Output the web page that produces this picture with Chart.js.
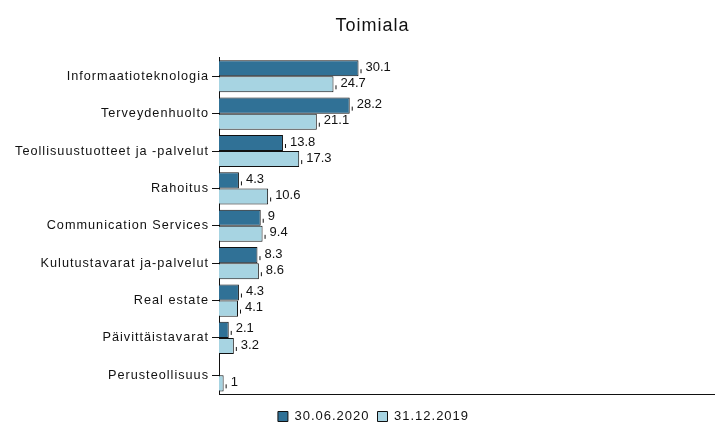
<!DOCTYPE html>
<html>
<head>
<meta charset="utf-8">
<script src="https://cdn.jsdelivr.net/npm/chart.js@4/dist/chart.umd.min.js"></script>
<style>
html,body{margin:0;padding:0;background:#fff;}
#wrap{width:715px;height:422px;}
</style>
</head>
<body>
<div id="wrap"><canvas id="c" width="715" height="422"></canvas></div>
<script>
const categories = ["Informaatioteknologia","Terveydenhuolto","Teollisuustuotteet ja -palvelut","Rahoitus","Communication Services","Kulutustavarat ja-palvelut","Real estate","Päivittäistavarat","Perusteollisuus"];
const seriesNames = ["30.06.2020","31.12.2019"];
const values2020 = [30.1, 28.2, 13.8, 4.3, 9, 8.3, 4.3, 2.1, null];
const values2019 = [24.7, 21.1, 17.3, 10.6, 9.4, 8.6, 4.1, 3.2, 1];
const colors = ["#307196", "#a7d4e2"];

const FONT = "'Liberation Sans', Arial, sans-serif";

const spacingPlugin = {
  id: 'spacing',
  beforeLayout(chart) { chart.ctx.letterSpacing = '1px'; },
  afterLayout(chart) {
    // title and legend in the reference are centred slightly right of the canvas centre
    const t = chart.titleBlock;
    if (t) { t.left += 15; t.right += 15; }
    const l = chart.legend;
    if (l) { l.left += 16; l.right += 16; }
  },
  beforeDraw(chart) { chart.ctx.letterSpacing = '1px'; }
};

const labelPlugin = {
  id: 'valueLabels',
  afterDatasetsDraw(chart) {
    const ctx = chart.ctx;
    ctx.save();
    ctx.letterSpacing = '0px';
    ctx.font = "13px " + FONT;
    ctx.fillStyle = "#111";
    ctx.textBaseline = "middle";
    ctx.textAlign = "left";
    chart.data.datasets.forEach((ds, di) => {
      const meta = chart.getDatasetMeta(di);
      meta.data.forEach((bar, i) => {
        const v = ds.data[i];
        if (v === null || v === undefined) return;
        const x = bar.x, y = bar.y;
        ctx.strokeStyle = "#111";
        ctx.lineWidth = 1;
        ctx.beginPath();
        ctx.moveTo(x + 2.5, y + 1);
        ctx.lineTo(x + 2.5, y + 5);
        ctx.stroke();
        ctx.fillText(String(v), x + 7, y - 1);
      });
    });
    ctx.restore();
  }
};

new Chart(document.getElementById('c'), {
  type: 'bar',
  data: {
    labels: categories,
    datasets: [
      { label: seriesNames[0], data: values2020, backgroundColor: colors[0], borderColor: "#111", borderWidth: 1 },
      { label: seriesNames[1], data: values2019, backgroundColor: colors[1], borderColor: "#111", borderWidth: 1 }
    ]
  },
  options: {
    indexAxis: 'y',
    responsive: false,
    animation: false,
    categoryPercentage: 0.86,
    barPercentage: 1.0,
    layout: { padding: { left: 0, right: 0, top: 0, bottom: 0 } },
    plugins: {
      title: {
        display: true, text: "Toimiala", color: "#111",
        font: { family: FONT, size: 18, weight: 'normal' },
        padding: { top: 15, bottom: 21 }
      },
      legend: {
        position: 'bottom',
        maxHeight: 20,
        labels: {
          color: "#111", boxWidth: 10, boxHeight: 10,
          font: { family: FONT, size: 13 }, padding: 8
        }
      },
      tooltip: { enabled: false }
    },
    scales: {
      x: {
        min: 0, max: 107,
        afterFit(scale) { scale.height = 8; },
        ticks: { display: false },
        grid: { display: false, drawTicks: false },
        border: { display: true, color: "#111", width: 1 }
      },
      y: {
        afterFit(scale) { scale.width = 219; },
        ticks: { color: "#111", font: { family: FONT, size: 12.7 }, padding: 3 },
        grid: { offset: false, drawOnChartArea: false, drawTicks: true, tickLength: 7, color: "#111" },
        border: { display: true, color: "#111", width: 1 }
      }
    }
  },
  plugins: [spacingPlugin, labelPlugin]
});
</script>
</body>
</html>
